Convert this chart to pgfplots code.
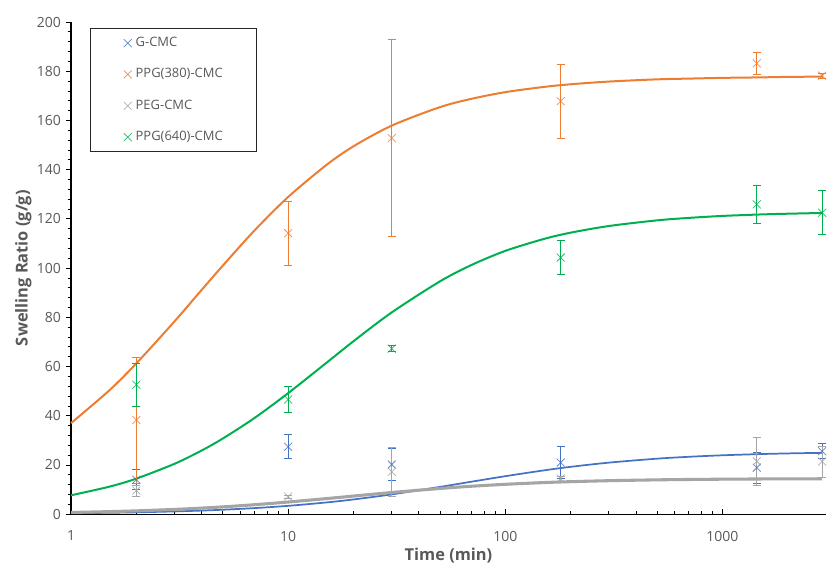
\documentclass[border=0pt]{standalone}
\usepackage{fontspec}
\setmainfont{Open Sans}
\usepackage{pgfplots}
\pgfplotsset{compat=1.18}
\usetikzlibrary{calc}

\definecolor{cblue}{HTML}{4472C4}
\definecolor{corange}{HTML}{ED7D31}
\definecolor{cgray}{HTML}{A5A5A5}
\definecolor{cgreen}{HTML}{00B050}
\definecolor{tgray}{HTML}{595959}

\pgfplotsset{
  pts/.style={only marks, mark=x, mark size=4.2pt, color=#1,
    mark options={line width=0.55pt, opacity=0.85},
    error bars/.cd, y dir=both, y explicit,
    error bar style={line width=0.65pt, color=#1},
    error mark options={rotate=90, mark size=3pt, line width=0.65pt, color=#1}},
  fit/.style={no marks, smooth, tension=0.5, color=#1, line width=1.5pt, forget plot},
}

\begin{document}
\begin{tikzpicture}
\begin{axis}[
  name=ax,
  scale only axis,
  width=566pt, height=369pt,
  xmode=log, xmin=1, xmax=3000,
  ymin=0, ymax=200,
  axis lines=left,
  axis line style={black, line width=0.8pt, -},
  xtick={1,10,100,1000},
  xticklabels={1,10,100,1000},
  ytick={0,20,...,200},
  minor y tick num=4,
  tick align=outside,
  major tick length=4pt, minor tick length=2.5pt,
  tick style={black, line width=0.6pt},
  major x tick style={yshift=4pt},
  minor x tick style={yshift=2.5pt},
  xticklabel style={yshift=-5pt},
  /pgf/number format/assume math mode=true,
  ticklabel style={font=\fontsize{10.5}{12}\selectfont, text=tgray},
  every axis x label/.style={at={(axis description cs:0.5,-0.085)}, anchor=center},
  every axis y label/.style={at={(axis description cs:-0.063,0.5)}, rotate=90, anchor=center},
  label style={font=\fontsize{12.3}{14}\selectfont\bfseries, text=tgray},
  xlabel={Time (min)},
  ylabel={Swelling Ratio (g/g)},
  clip=false,
  legend cell align=left,
  legend image code/.code={\draw[#1] plot coordinates {(0pt,0pt)};},
  legend style={at={(axis description cs:0.025,0.988)}, anchor=north west,
    draw=black!85, line width=0.8pt, fill=white,
    font=\fontsize{9.7}{11}\selectfont, text=tgray,
    inner xsep=25pt, inner ysep=6.5pt, row sep=14.5pt,
    nodes={inner sep=0pt, text height=7pt, text depth=2pt},
    /tikz/every odd column/.append style={column sep=3pt}},
]

% fitted curves
\addplot[fit=cblue, line width=1.3pt] coordinates {
 (1,0.39) (1.5,0.58) (2,0.76) (3,1.13) (4,1.48) (5,1.82) (7,2.48) (10,3.40)
 (15,4.78) (20,6.00) (30,8.05) (50,11.09) (70,13.22) (100,15.45) (150,17.79)
 (200,19.25) (300,20.96) (500,22.57) (700,23.33) (1000,23.94) (1500,24.44)
 (2000,24.70) (2880,24.94)};
\addplot[fit=corange] coordinates {
 (1,37.0) (1.5,50.3) (2,61.3) (3,78.4) (4,91.2) (5,101.0) (7,115.3) (10,128.9)
 (15,141.9) (20,149.5) (30,157.9) (50,165.4) (70,168.8) (100,171.5) (150,173.6)
 (200,174.7) (300,175.8) (500,176.7) (700,177.0) (1000,177.3) (1500,177.5)
 (2000,177.7) (2880,177.8)};
\addplot[fit=cgray, line width=2.3pt] coordinates {
 (1,0.71) (1.5,1.05) (2,1.36) (3,1.95) (4,2.49) (5,2.98) (7,3.86) (10,4.95)
 (15,6.34) (20,7.38) (30,8.82) (50,10.46) (70,11.37) (100,12.15) (150,12.85)
 (200,13.22) (300,13.62) (500,13.96) (700,14.11) (1000,14.23) (1500,14.32)
 (2000,14.36) (2880,14.40)};
\addplot[fit=cgreen] coordinates {
 (1,7.69) (1.5,11.18) (2,14.47) (3,20.5) (4,25.9) (5,30.75) (7,39.1) (10,49.2)
 (15,61.5) (20,70.3) (30,82.0) (50,94.6) (70,101.3) (100,107.0) (150,111.8)
 (200,114.4) (300,117.1) (500,119.4) (700,120.4) (1000,121.2) (1500,121.8)
 (2000,122.1) (2880,122.4)};

% measured points
\addplot[pts=cblue] coordinates {
 (2,14) +- (0,4) (10,27.4) +- (0,4.9) (30,20.2) +- (0,6.4)
 (180,21) +- (0,6.5) (1440,18.9) +- (0,6.2) (2880,25.6) +- (0,3)};
\addlegendentry{G-CMC}
\addplot[pts=corange] coordinates {
 (2,38.3) +- (0,25.6) (10,114.2) +- (0,13) (30,152.8) +- (0,40)
 (180,167.8) +- (0,15) (1440,183.2) +- (0,4.6) (2880,178.2) +- (0,1)};
\addlegendentry{PPG(380)-CMC}
\addplot[pts=cgray] coordinates {
 (2,9.6) +- (0,2.2) (10,7.2) +- (0,0.6) (30,17.2) +- (0,10)
 (180,14.5) +- (0,1) (1440,21.5) +- (0,9.8) (2880,21.4) +- (0,6.3)};
\addlegendentry{PEG-CMC}
\addplot[pts=cgreen] coordinates {
 (2,52.6) +- (0,8.8) (10,46.6) +- (0,5.3) (30,67.3) +- (0,1.2)
 (180,104.3) +- (0,7) (1440,125.9) +- (0,7.6) (2880,122.5) +- (0,9)};
\addlegendentry{PPG(640)-CMC}
\end{axis}
\pgfresetboundingbox
\path ($(ax.south west)+(-53.25pt,-39.75pt)$) rectangle ($(ax.north east)+(3pt,16.5pt)$);
\end{tikzpicture}
\end{document}
